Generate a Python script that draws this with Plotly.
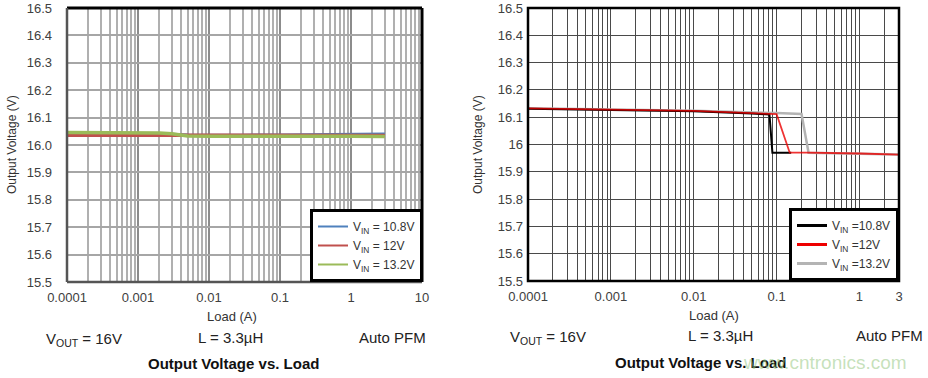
import plotly.graph_objects as go

# ---------------- data ----------------
# Left chart (Excel-style colours)
left_x = [0.0001, 0.0005, 0.001, 0.002, 0.003, 0.005, 0.01, 0.03, 0.1, 0.3, 1, 3]
left_10v8 = [16.040, 16.040, 16.040, 16.039, 16.038, 16.036, 16.035, 16.035, 16.036, 16.037, 16.038, 16.039]
left_12v = [16.036, 16.036, 16.036, 16.036, 16.035, 16.033, 16.033, 16.033, 16.034, 16.034, 16.035, 16.035]
left_13v2 = [16.046, 16.046, 16.045, 16.044, 16.041, 16.033, 16.032, 16.031, 16.031, 16.032, 16.032, 16.031]

# Right chart
r_black_x = [0.0001, 0.001, 0.01, 0.05, 0.082, 0.089, 0.15]
r_black_y = [16.131, 16.127, 16.122, 16.114, 16.110, 15.970, 15.970]
r_red_x = [0.0001, 0.001, 0.01, 0.05, 0.1, 0.144, 0.243, 1, 3]
r_red_y = [16.132, 16.128, 16.123, 16.115, 16.111, 15.970, 15.970, 15.967, 15.963]
r_gray_x = [0.0001, 0.001, 0.01, 0.1, 0.2, 0.243, 1, 3]
r_gray_y = [16.133, 16.129, 16.124, 16.115, 16.112, 15.970, 15.967, 15.963]

series_names = ["V<sub>IN</sub> = 10.8V", "V<sub>IN</sub> = 12V", "V<sub>IN</sub> = 13.2V"]
series_names_r = ["V<sub>IN</sub> =10.8V", "V<sub>IN</sub> =12V", "V<sub>IN</sub> =13.2V"]

left_ticks = [0.0001, 0.001, 0.01, 0.1, 1, 10]
left_ticktext = ["0.0001", "0.001", "0.01", "0.1", "1", "10"]
right_ticks = [0.0001, 0.001, 0.01, 0.1, 1, 3]
right_ticktext = ["0.0001", "0.001", "0.01", "0.1", "1", "3"]
y_ticks = [15.5, 15.6, 15.7, 15.8, 15.9, 16.0, 16.1, 16.2, 16.3, 16.4, 16.5]
y_ticktext_left = ["15.5", "15.6", "15.7", "15.8", "15.9", "16.0", "16.1", "16.2", "16.3", "16.4", "16.5"]
y_ticktext_right = ["15.5", "15.6", "15.7", "15.8", "15.9", "16", "16.1", "16.2", "16.3", "16.4", "16.5"]

minor_vals = [m * 10.0 ** e for e in range(-4, 1) for m in range(2, 10)]

# ---------------- figure ----------------
W, H = 928, 378
def px_x(p):
    return p / W
def px_y(p):
    return 1 - p / H

fig = go.Figure()

left_colors = ["#4F81BD", "#C0504D", "#9BBB59"]
left_data = [left_10v8, left_12v, left_13v2]
for name, yv, c in zip(series_names, left_data, left_colors):
    fig.add_trace(go.Scatter(x=left_x, y=yv, mode="lines", line=dict(color=c, width=3.5),
                             xaxis="x", yaxis="y", showlegend=False, hoverinfo="skip"))
for name, c in zip(series_names, left_colors):
    fig.add_trace(go.Scatter(x=[None], y=[None], mode="lines", name=name,
                             line=dict(color=c, width=2), xaxis="x", yaxis="y",
                             legend="legend"))

# right chart: gray under, black, red on top
fig.add_trace(go.Scatter(x=r_gray_x, y=r_gray_y, mode="lines", line=dict(color="#B4B4B4", width=2.5),
                         xaxis="x2", yaxis="y2", showlegend=False, hoverinfo="skip"))
fig.add_trace(go.Scatter(x=r_black_x, y=r_black_y, mode="lines", line=dict(color="#000000", width=2),
                         xaxis="x2", yaxis="y2", showlegend=False, hoverinfo="skip"))
fig.add_trace(go.Scatter(x=r_red_x, y=r_red_y, mode="lines", line=dict(color="rgba(235,0,0,0.8)", width=1.8),
                         xaxis="x2", yaxis="y2", showlegend=False, hoverinfo="skip"))
for name, c in zip(series_names_r, ["#000000", "#EE0000", "#B4B4B4"]):
    fig.add_trace(go.Scatter(x=[None], y=[None], mode="lines", name=name,
                             line=dict(color=c, width=3), xaxis="x2", yaxis="y2",
                             legend="legend2"))

font_fam = "Liberation Sans, Arial, sans-serif"
tick_font = dict(family=font_fam, size=13, color="#404040")

common_x = dict(type="log", showline=False, zeroline=False, ticks="", tickfont=tick_font,
                tickmode="array", automargin=False, ticklabeloverflow="allow")
fig.update_layout(
    width=W, height=H, margin=dict(l=0, r=0, t=0, b=0, autoexpand=False),
    paper_bgcolor="white", plot_bgcolor="white",
    font=dict(family=font_fam, color="#222222"),
    xaxis=dict(common_x, domain=[px_x(67), px_x(422)], anchor="y", range=[-4, 1],
               tickvals=left_ticks, ticktext=left_ticktext,
               showgrid=True, gridcolor="#8C8C8C", gridwidth=1.5, ticklabelstandoff=6,
               minor=dict(tickmode="array", tickvals=minor_vals + [20, 30, 40, 50, 60, 70, 80, 90],
                          showgrid=True, gridcolor="#B0B0B0", gridwidth=1.5, ticks="")),
    yaxis=dict(domain=[px_y(282), px_y(8)], anchor="x", range=[15.5, 16.5],
               tickmode="array", tickvals=y_ticks, ticktext=y_ticktext_left,
               showgrid=True, gridcolor="#A6A6A6", gridwidth=1.5, zeroline=False, ticks="",
               tickfont=tick_font, ticklabelstandoff=14, automargin=False, ticklabeloverflow="allow"),
    xaxis2=dict(common_x, domain=[px_x(528), px_x(899)], anchor="y2", range=[-4, 0.47712],
                tickvals=right_ticks, ticktext=right_ticktext,
                showgrid=True, gridcolor="#4A4A4A", gridwidth=1, ticklabelstandoff=6,
                minor=dict(tickmode="array", tickvals=minor_vals + [2],
                           showgrid=True, gridcolor="#4A4A4A", gridwidth=1, ticks="")),
    yaxis2=dict(domain=[px_y(281), px_y(8)], anchor="x2", range=[15.5, 16.5],
                tickmode="array", tickvals=y_ticks, ticktext=y_ticktext_right,
                showgrid=True, gridcolor="#4A4A4A", gridwidth=1, zeroline=False, ticks="",
                tickfont=tick_font, ticklabelstandoff=4, automargin=False, ticklabeloverflow="allow"),
    legend=dict(x=px_x(423), y=px_y(282), xanchor="right", yanchor="bottom",
                bgcolor="white", bordercolor="#000000", borderwidth=3,
                font=dict(family=font_fam, size=12, color="#333333"),
                tracegroupgap=0, itemwidth=30),
    legend2=dict(x=px_x(899), y=px_y(281), xanchor="right", yanchor="bottom",
                 bgcolor="white", bordercolor="#000000", borderwidth=3,
                 font=dict(family=font_fam, size=12, color="#333333"),
                 tracegroupgap=0, itemwidth=30),
)

shapes = [
    # left chart borders
    dict(type="line", xref="x domain", yref="y domain", x0=0, x1=1, y0=1, y1=1, line=dict(color="#000", width=3)),
    dict(type="line", xref="x domain", yref="y domain", x0=1, x1=1, y0=0, y1=1, line=dict(color="#000", width=3)),
    dict(type="line", xref="x domain", yref="y domain", x0=0, x1=0, y0=0, y1=1, line=dict(color="#555", width=2.5)),
    dict(type="line", xref="x domain", yref="y domain", x0=0, x1=1, y0=0, y1=0, line=dict(color="#555", width=2.5)),
    # right chart border
    dict(type="rect", xref="x2 domain", yref="y2 domain", x0=0, x1=1, y0=0, y1=1, line=dict(color="#000", width=2.5)),
]
fig.update_layout(shapes=shapes)

ann_font = dict(family=font_fam, size=15, color="#222222")
anns = [
    dict(text="Output Voltage (V)", x=px_x(12), y=px_y(145), textangle=-90, font=dict(family=font_fam, size=12, color="#333")),
    dict(text="Output Voltage (V)", x=px_x(478), y=px_y(145), textangle=-90, font=dict(family=font_fam, size=12, color="#333")),
    dict(text="Load (A)", x=px_x(232), y=px_y(316), font=dict(family=font_fam, size=13, color="#333")),
    dict(text="Load (A)", x=px_x(714), y=px_y(315), font=dict(family=font_fam, size=13, color="#333")),
    dict(text="V<sub>OUT</sub> = 16V", x=px_x(44), y=px_y(339), xanchor="left", font=ann_font),
    dict(text="L = 3.3µH", x=px_x(230), y=px_y(337), font=ann_font),
    dict(text="Auto PFM", x=px_x(428), y=px_y(337), xanchor="right", font=ann_font),
    dict(text="<b>Output Voltage vs. Load</b>", x=px_x(233), y=px_y(363), font=dict(family=font_fam, size=15, color="#111")),
    dict(text="V<sub>OUT</sub> = 16V", x=px_x(508), y=px_y(337), xanchor="left", font=ann_font),
    dict(text="L = 3.3µH", x=px_x(720), y=px_y(335), font=ann_font),
    dict(text="Auto PFM", x=px_x(925), y=px_y(335), xanchor="right", font=ann_font),
    dict(text="<b>Output Voltage vs. Load</b>", x=px_x(700), y=px_y(362), font=dict(family=font_fam, size=15, color="#111")),
    dict(text="www.cntronics.com", x=px_x(825), y=px_y(362), font=dict(family=font_fam, size=19, color="rgba(150,200,130,0.55)")),
]
for a in anns:
    a.setdefault("xref", "paper")
    a.setdefault("yref", "paper")
    a.setdefault("showarrow", False)
    a.setdefault("xanchor", "center")
    a.setdefault("yanchor", "middle")
fig.update_layout(annotations=anns)

# remove the browser's default 8px body margin so the figure fills the window
fig.write_html("out.html", config={"displayModeBar": False},
               post_script="document.body.style.margin='0';document.body.style.overflow='hidden';")
